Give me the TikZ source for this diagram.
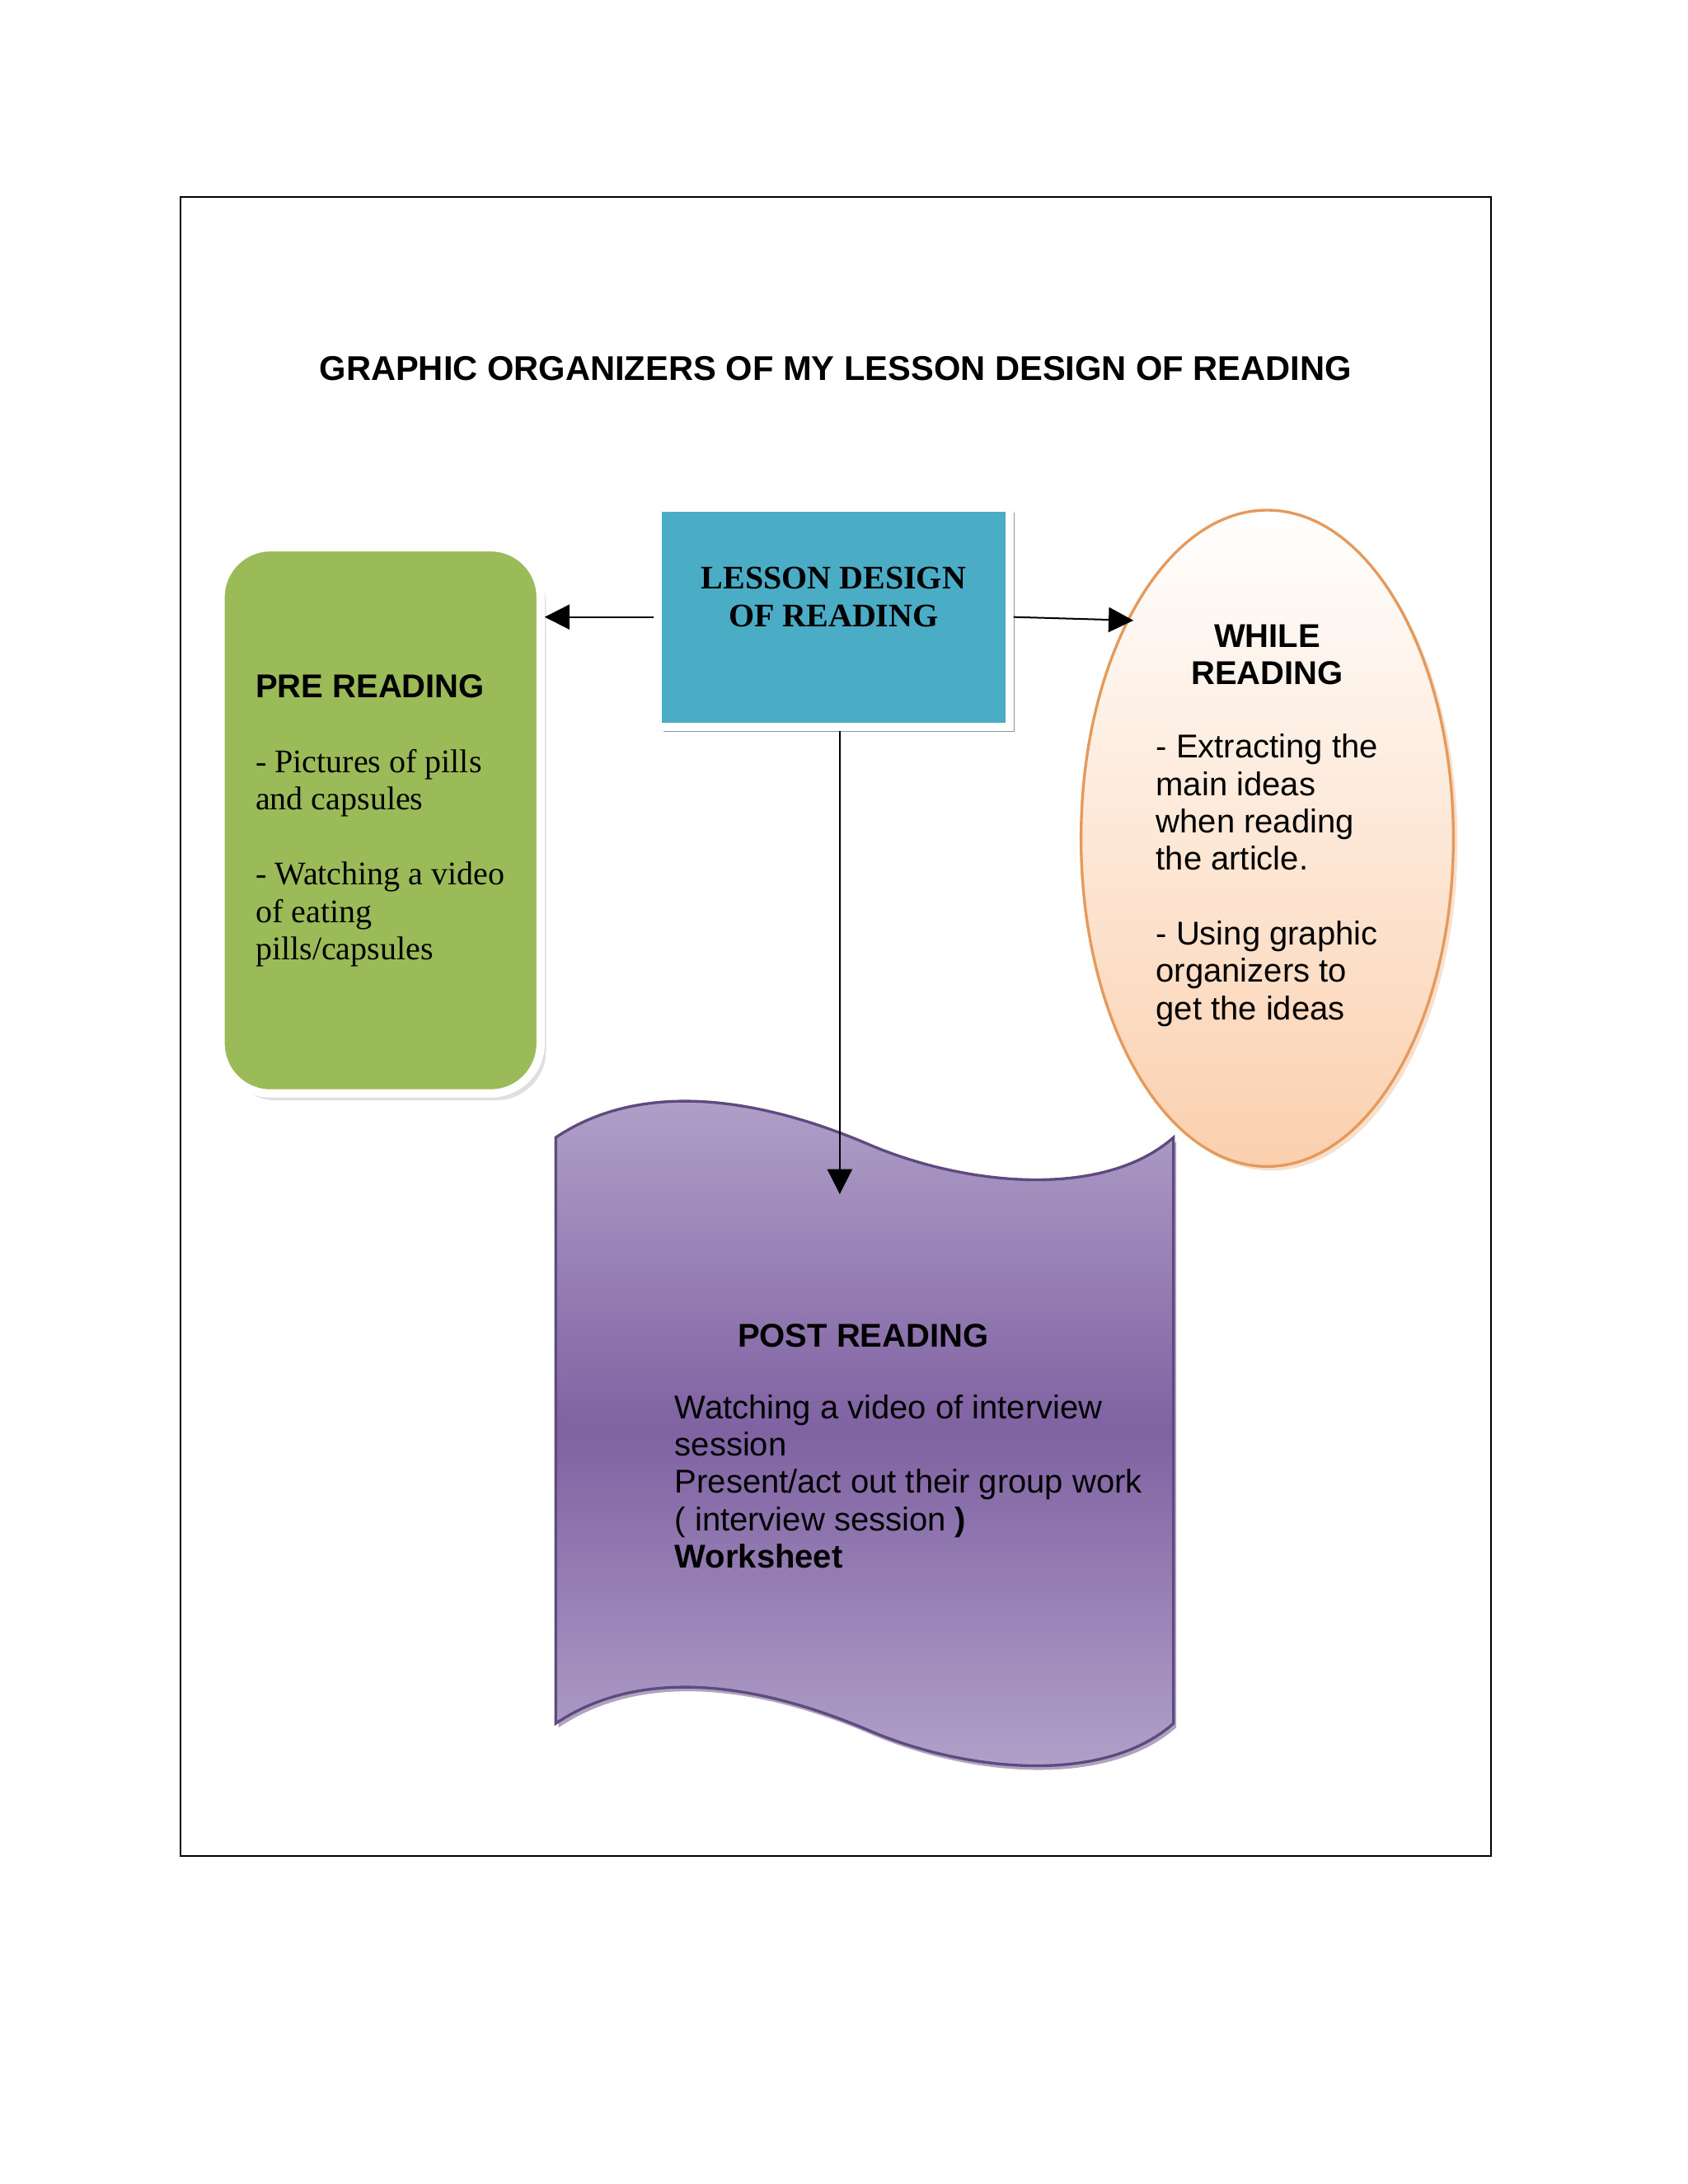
\documentclass[tikz,border=0pt]{standalone}
\usepackage{fontspec}
\setmainfont{Liberation Serif}
\newfontfamily\arialfont{Liberation Sans}
\usetikzlibrary{arrows.meta,shadows,shapes.geometric}
\definecolor{boxblue}{HTML}{4BACC6}
\definecolor{pregreen}{HTML}{9BBB59}
\definecolor{peach}{HTML}{FBD0AE}
\definecolor{peachline}{HTML}{E59A5C}
\definecolor{lilac}{HTML}{B4A3CB}
\definecolor{violet}{HTML}{7F62A2}
\definecolor{violetline}{HTML}{5F4A80}
\begin{document}
\begin{tikzpicture}[x=0.5bp,y=-0.5bp,>={Triangle[length=9bp,width=9bp]},
  every node/.style={inner sep=0pt},
  body/.style={font=\fontsize{12}{13.6}\selectfont,align=left,text=black},
  sans/.style={body,font=\arialfont\fontsize{12}{13.6}\selectfont}]
  \useasboundingbox (0,0) rectangle (1224,1584);
  \draw[line width=0.6bp] (131,143) rectangle (1081,1346);
  % Title
  \node[font=\arialfont\bfseries\fontsize{12.5}{14}\selectfont] (title) at (606,267)
    {GRAPHIC ORGANIZERS OF MY LESSON DESIGN OF READING};
  % Post reading
  \shade[top color=lilac,bottom color=lilac,middle color=violet,draw=violetline,line width=1bp,
    drop shadow={shadow xshift=1bp,shadow yshift=-1.5bp,fill=violetline}]
    (403,825) .. controls (470,780) and (560,800) .. (630,830)
    .. controls (700,860) and (800,870) .. (851,825) -- (851,1250)
    .. controls (800,1295) and (700,1285) .. (630,1255)
    .. controls (560,1225) and (470,1205) .. (403,1250) -- cycle;
  \coordinate (post) at (609,866);
  \node[sans,font=\arialfont\bfseries\fontsize{12}{13.6}\selectfont] (posttitle) at (626,969) {POST READING};
  \node[sans,anchor=north west] (postbody) at (489,1011)
    {Watching a video of interview\\session\\Present/act out their group work\\( interview session {\bfseries)}\\{\bfseries Worksheet}};
  % Pre reading
  \node[fill=pregreen,draw=white,line width=3bp,rounded corners=18bp,minimum width=116bp,minimum height=198bp,
    drop shadow={shadow xshift=2bp,shadow yshift=-2.5bp,fill=gray!50}] (pre) at (276,595) {};
  \node[body,anchor=north west] (pretext) at (185,489)
    {{\arialfont\bfseries PRE READING}\\[13.6bp]- Pictures of pills\\and capsules\\[13.6bp]- Watching a video\\of eating\\pills/capsules};
  % While reading
  \node[ellipse,top color=white,bottom color=peach,draw=peachline,line width=1bp,
    minimum width=135bp,minimum height=238bp,
    drop shadow={shadow xshift=1.5bp,shadow yshift=-1.5bp,fill=peachline!60}] (while) at (919,608) {};
  \coordinate (whilein) at (822,450);
  \node[sans,font=\arialfont\bfseries\fontsize{12}{13.6}\selectfont,align=center] (whiletitle) at (919,475) {WHILE\\READING};
  \node[sans,anchor=north west] (whiletext) at (838,532)
    {- Extracting the\\main ideas\\when reading\\the article.\\[13.6bp]- Using graphic\\organizers to\\get the ideas};
  % Lesson design
  \node[fill=boxblue,draw=white,line width=3bp,minimum width=127.5bp,minimum height=79.5bp,
    drop shadow={shadow xshift=2bp,shadow yshift=-2bp,fill=black!70!boxblue}] (lesson) at (604.5,447.5) {};
  \node[font=\bfseries\fontsize{12}{13.6}\selectfont,align=center] (lessontext) at (604.5,433) {LESSON DESIGN\\OF READING};
  % Connectors
  \draw[->,line width=0.6bp] (lesson.west) -- (lesson.west -| pre.east);
  \draw[->,line width=0.6bp] (lesson.east) -- (whilein);
  \draw[->,line width=0.6bp] (lesson.south -| post) -- (post);
\end{tikzpicture}
\end{document}
